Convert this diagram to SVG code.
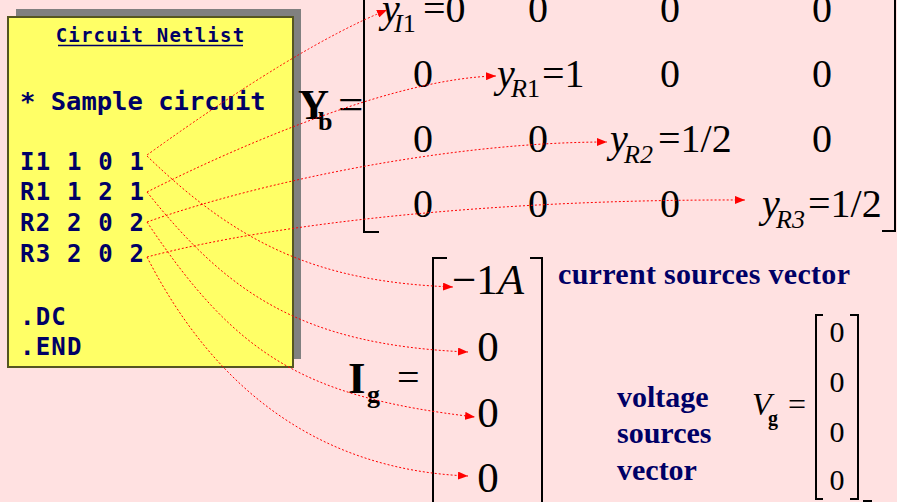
<svg xmlns="http://www.w3.org/2000/svg" width="897" height="502" viewBox="0 0 897 502">
<defs>
<style>
.mono{font-family:"DejaVu Sans Mono","Liberation Mono",monospace;font-weight:bold;fill:#000066}
.m{font-family:"Liberation Serif","Times New Roman",serif;fill:#000}
.mb{font-family:"Liberation Serif","Times New Roman",serif;font-weight:bold;fill:#000}
.it{font-style:italic}
.lbl{font-family:"Liberation Serif","Times New Roman",serif;font-weight:bold;fill:#000066;font-size:30px}
.br{fill:none;stroke:#000;stroke-width:2}
.c{fill:none;stroke:#ff0000;stroke-width:1;stroke-dasharray:2 2;marker-end:url(#ah)}
</style>
<marker id="ah" viewBox="0 0 10 8" refX="10" refY="4" markerWidth="10" markerHeight="8" markerUnits="userSpaceOnUse" orient="auto">
<path d="M0,0 L10,4 L0,8 z" fill="#ff0000"/>
</marker>
</defs>
<rect x="0" y="0" width="897" height="502" fill="#FFE1E1"/>

<g id="netlist">
<rect x="16" y="9" width="285" height="350" fill="#808080"/>
<rect x="8" y="17" width="285" height="350" fill="#FFFF66" stroke="#555522" stroke-width="2"/>
<text class="mono" x="150.5" y="42" font-size="19" letter-spacing="1.2" text-anchor="middle">Circuit Netlist</text>
<line x1="58" y1="45.5" x2="243" y2="45.5" stroke="#000066" stroke-width="1.5"/>
<text class="mono" x="20" y="110" font-size="25.5">* Sample circuit</text>
<text class="mono" x="20" y="170" font-size="24" letter-spacing="1.2">I1 1 0 1</text>
<text class="mono" x="20" y="200" font-size="24" letter-spacing="1.2">R1 1 2 1</text>
<text class="mono" x="20" y="231" font-size="24" letter-spacing="1.2">R2 2 0 2</text>
<text class="mono" x="20" y="262" font-size="24" letter-spacing="1.2">R3 2 0 2</text>
<text class="mono" x="20" y="325" font-size="24" letter-spacing="1.2">.DC</text>
<text class="mono" x="20" y="355" font-size="24" letter-spacing="1.2">.END</text>
</g>

<g id="Yb">
<text class="mb" x="298" y="119" font-size="43">Y</text>
<text class="mb" x="318" y="130" font-size="26">b</text>
<text class="m" x="338" y="119" font-size="45">=</text>
<path class="br" d="M364,-5 V232 H379"/>
<path class="br" d="M882,231 H895 V-5"/>
<g class="m" font-size="40" text-anchor="middle">
<text x="538" y="22">0</text><text x="670" y="22">0</text><text x="822" y="22">0</text>
<text x="423" y="87">0</text><text x="670" y="87">0</text><text x="822" y="87">0</text>
<text x="423" y="152">0</text><text x="538" y="152">0</text><text x="822" y="152">0</text>
<text x="423" y="217">0</text><text x="538" y="217">0</text><text x="670" y="217">0</text>
</g>
<g class="m" font-size="40">
<text class="it" x="382" y="22">y</text>
<text x="394" y="32" font-size="26"><tspan class="it">I</tspan>1</text>
<text x="423" y="22">=0</text>
<text class="it" x="497" y="87">y</text>
<text x="511" y="97" font-size="26"><tspan class="it">R</tspan>1</text>
<text x="542" y="87">=1</text>
<text class="it" x="610" y="152">y</text>
<text x="624" y="163" font-size="26" class="it">R2</text>
<text x="658" y="152">=1/2</text>
<text class="it" x="762" y="217">y</text>
<text x="776" y="228" font-size="26" class="it">R3</text>
<text x="808" y="217">=1/2</text>
</g>
</g>

<g id="Ig">
<text class="mb" x="348" y="393" font-size="45">I</text>
<text class="mb" x="367" y="403" font-size="26">g</text>
<text class="m" x="397" y="391" font-size="40">=</text>
<path class="br" d="M447,258 H433 V510"/>
<path class="br" d="M530,258 H542 V510"/>
<text class="m" x="452" y="294" font-size="43">−1<tspan class="it">A</tspan></text>
<g class="m" font-size="43" text-anchor="middle">
<text x="488" y="361">0</text>
<text x="488" y="427">0</text>
<text x="488" y="492">0</text>
</g>
</g>

<g id="current-label">
<text class="lbl" x="558" y="284" textLength="292" lengthAdjust="spacing">current sources vector</text>
</g>

<g id="voltage-label">
<text class="lbl" x="617" y="407">voltage</text>
<text class="lbl" x="617" y="443">sources</text>
<text class="lbl" x="617" y="480">vector</text>
</g>

<g id="Vg">
<text class="m it" x="752" y="415" font-size="32">V</text>
<text class="mb" x="768" y="425" font-size="20">g</text>
<text class="m" x="788" y="415" font-size="32">=</text>
<path class="br" d="M823,315 H816 V499 H823"/>
<path class="br" d="M850,315 H858 V499 H850"/>
<g class="m" font-size="30" text-anchor="middle">
<text x="837" y="342">0</text>
<text x="837" y="392">0</text>
<text x="837" y="442">0</text>
<text x="837" y="490">0</text>
</g>
<path d="M863,501 H872" stroke="#000" stroke-width="2"/>
</g>

<g id="connectors">
<path class="c" d="M147,155 Q300,45 387,10"/>
<path class="c" d="M147,192 C250,140 400,78 496,76"/>
<path class="c" d="M147,222 C260,182 450,142 607,142"/>
<path class="c" d="M147,257 C280,222 500,199 745,200"/>
<path class="c" d="M147,156 C240,246 320,282 453,287"/>
<path class="c" d="M147,192 C227,292 300,345 468,352"/>
<path class="c" d="M147,222 C237,357 305,397 475,417"/>
<path class="c" d="M147,257 C215,390 320,470 468,476"/>
</g>
</svg>
